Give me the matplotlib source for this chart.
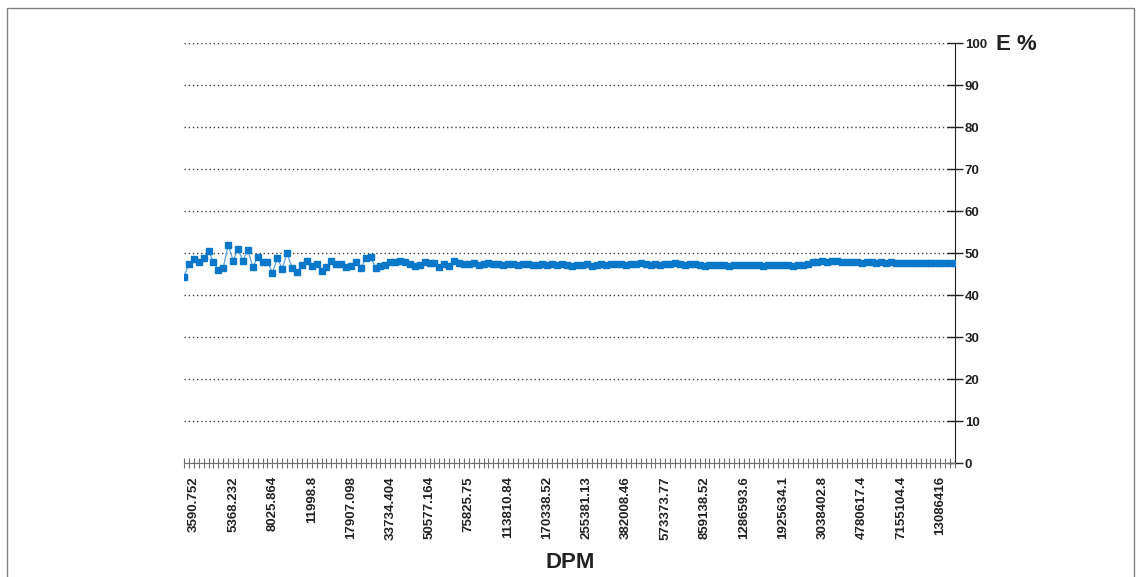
import matplotlib
matplotlib.use("Agg")
import matplotlib.pyplot as plt
from matplotlib.patches import Rectangle
import numpy as np

plt.rcParams['font.family'] = ['Liberation Sans', 'DejaVu Sans']

# E% values, one per DPM step
e_values = [
    44.4, 47.3, 48.6, 47.9, 48.7, 50.5, 47.8, 46.0, 46.5, 51.9, 48.2, 50.9, 48.2,
    50.7, 46.7, 49.0, 47.9, 47.9, 45.3, 48.7, 46.3, 49.9, 46.4, 45.4, 47.1, 48.2,
    46.9, 47.4, 45.7, 46.6, 48.2, 47.5, 47.4, 46.6, 46.9, 47.8, 46.4, 48.7, 49.1,
    46.5, 46.9, 47.1, 47.9, 47.9, 48.2, 47.8, 47.4, 46.8, 47.1, 47.9, 47.6, 47.7,
    46.7, 47.3, 46.9, 48.2, 47.7, 47.5, 47.3,
    47.6, 47.2, 47.4, 47.6, 47.3, 47.5, 47.1, 47.3, 47.5, 47.2, 47.4, 47.3,
    47.2, 47.1, 47.3, 47.2, 47.4, 47.1, 47.3, 47.2, 47.0, 47.1, 47.2, 47.3, 47.0,
    47.2, 47.3, 47.2, 47.3, 47.4, 47.3, 47.2, 47.5, 47.3, 47.6, 47.4, 47.2,
    47.3, 47.2, 47.3, 47.4, 47.6, 47.3, 47.2, 47.5, 47.3, 47.1, 47.0, 47.1,
    47.1, 47.2, 47.1, 47.0, 47.1, 47.2, 47.1, 47.1, 47.2, 47.1,
    47.0, 47.1, 47.1, 47.1, 47.2, 47.1, 47.0, 47.1, 47.2, 47.3,
    47.9, 47.9, 48.0, 47.9, 48.0, 48.1, 47.9, 47.8, 47.9, 47.8,
    47.7, 47.9, 47.8, 47.7, 47.8, 47.7, 47.8, 47.7, 47.6, 47.7,
    47.7, 47.6, 47.7, 47.7, 47.6, 47.7, 47.6, 47.7, 47.6, 47.6,
]

# category labels shown every 8th DPM step, starting at the 3rd one
dpm_labels = [
    '3590.752', '5368.232', '8025.864', '11998.8', '17907.098', '33734.404',
    '50577.164', '75825.75', '113810.84', '170338.52', '255381.13', '382008.46',
    '573373.77', '859138.52', '1286593.6', '1925634.1', '3038402.8', '4780617.4',
    '7155104.4', '13086416',
]
label_start = 2
label_step = 8

y_ticks = list(range(0, 101, 10))

fig = plt.figure(figsize=(11.42, 5.77), dpi=100)
ax = fig.add_axes([184 / 1142, 114 / 577, 771 / 1142, 420 / 577])

x = np.arange(len(e_values))
ax.plot(x, e_values, color='#5ba3dc', linewidth=0.9, zorder=3)
ax.plot(x, e_values, linestyle='none', marker='s', markersize=4.4,
        markerfacecolor='#0a78c8', markeredgecolor='#0a78c8', zorder=4)

ax.set_xlim(0, len(e_values) - 1)
ax.set_ylim(0, 100)

# y axis on the right
ax.yaxis.tick_right()
ax.set_yticks(y_ticks)
ax.set_yticklabels([str(t) for t in y_ticks], fontsize=9.5, fontweight='bold',
                   color='#222222')
ax.tick_params(axis='y', direction='inout', length=11, width=1,
               color='#222222', pad=1.5)

# category ticks on every step, labels only every 8th
ax.set_xticks(x, minor=True)
label_pos = [label_start + i * label_step for i in range(len(dpm_labels))]
ax.set_xticks(label_pos)
ax.set_xticklabels(dpm_labels, rotation=90, fontsize=9.5, fontweight='bold',
                   color='#222222', va='top', ha='center')
ax.tick_params(axis='x', which='both', direction='inout', length=7,
               width=0.8, color='#707070', pad=6)

ax.yaxis.grid(True, linestyle=(0, (1, 2)), color='#404040', linewidth=1)
ax.set_axisbelow(True)

ax.spines['top'].set_visible(False)
ax.spines['left'].set_visible(False)
ax.spines['right'].set_color('#222222')
ax.spines['bottom'].set_color('#707070')

fig.text(996 / 1142, 1 - 45 / 577, 'E %', fontsize=16, fontweight='bold',
         ha='left', va='center', color='#222222')
fig.text(570 / 1142, 1 - 563 / 577, 'DPM', fontsize=16, fontweight='bold',
         ha='center', va='center', color='#222222')

# outer chart border
fig.patches.append(Rectangle((7 / 1142, -0.05), 1127 / 1142, 1.05 - 8 / 577,
                             transform=fig.transFigure, fill=False,
                             edgecolor='#808080', linewidth=1))

fig.savefig('out.png', dpi=100, facecolor='white')
